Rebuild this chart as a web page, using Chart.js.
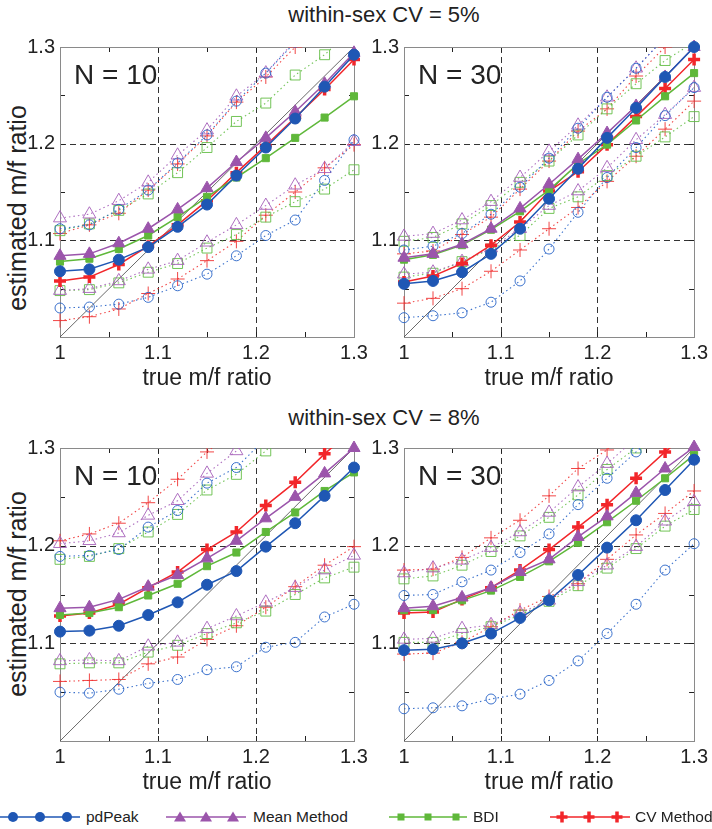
<!DOCTYPE html>
<html>
<head>
<meta charset="utf-8">
<script src="https://cdn.jsdelivr.net/npm/chart.js@4.4.0/dist/chart.umd.min.js"></script>
<style>
  body { margin: 0; background: #fff; font-family: "Liberation Sans", Arial, sans-serif; color: #222; }
  #page { position: relative; width: 712px; height: 829px; overflow: hidden; }
  canvas { position: absolute; }
  .title { position: absolute; font-size: 22px; line-height: 26px; white-space: nowrap; transform: translateX(-50%); }
  .ytitle { position: absolute; font-size: 25px; line-height: 28px; white-space: nowrap;
            transform: translate(-50%, -50%) rotate(-90deg); }
  .leg { position: absolute; top: 808px; font-size: 15.5px; line-height: 18px; white-space: nowrap; }
  .legicon { position: absolute; top: 809px; }
</style>
</head>
<body>
<div id="page">
  <div class="title" style="left:384px; top:2px;">within-sex CV = 5%</div>
  <div class="title" style="left:384px; top:405px;">within-sex CV = 8%</div>
  <div class="ytitle" style="left:17px; top:208px;">estimated m/f ratio</div>
  <div class="ytitle" style="left:17px; top:594px;">estimated m/f ratio</div>

  <canvas id="cA" width="380" height="362" style="left:0; top:30px;"></canvas>
  <canvas id="cB" width="356" height="362" style="left:356px; top:30px;"></canvas>
  <canvas id="cC" width="380" height="365" style="left:0; top:431px;"></canvas>
  <canvas id="cD" width="356" height="365" style="left:356px; top:431px;"></canvas>

  <svg class="legicon" style="left:0" width="80" height="16">
    <line x1="0" y1="8" x2="80" y2="8" stroke="#1f57b4" stroke-width="1.5"/>
    <circle cx="13" cy="8" r="5" fill="#1f57b4"/><circle cx="40" cy="8" r="5" fill="#1f57b4"/><circle cx="67" cy="8" r="5" fill="#1f57b4"/>
  </svg>
  <div class="leg" style="left:86px">pdPeak</div>
  <svg class="legicon" style="left:166px" width="80" height="16">
    <line x1="0" y1="8" x2="80" y2="8" stroke="#9b55ab" stroke-width="1.5"/>
    <polygon points="14,2.5 20,12.5 8,12.5" fill="#9b55ab"/><polygon points="40,2.5 46,12.5 34,12.5" fill="#9b55ab"/><polygon points="67,2.5 73,12.5 61,12.5" fill="#9b55ab"/>
  </svg>
  <div class="leg" style="left:253px">Mean Method</div>
  <svg class="legicon" style="left:389px" width="80" height="16">
    <line x1="0" y1="8" x2="78" y2="8" stroke="#5fb83a" stroke-width="1.5"/>
    <rect x="8.5" y="4.5" width="7" height="7" fill="#5fb83a"/><rect x="35.5" y="4.5" width="7" height="7" fill="#5fb83a"/><rect x="63.5" y="4.5" width="7" height="7" fill="#5fb83a"/>
  </svg>
  <div class="leg" style="left:473px">BDI</div>
  <svg class="legicon" style="left:550px" width="80" height="16">
    <line x1="0" y1="8" x2="80" y2="8" stroke="#f2262a" stroke-width="1.5"/>
    <path d="M12 2.5V13.5M6.5 8H17.5M39 2.5V13.5M33.5 8H44.5M67 2.5V13.5M61.5 8H72.5" stroke="#f2262a" stroke-width="3.5"/>
  </svg>
  <div class="leg" style="left:635px">CV Method</div>
</div>

<script>
// x values: true m/f ratio
const trueRatio = [1.00, 1.03, 1.06, 1.09, 1.12, 1.15, 1.18, 1.21, 1.24, 1.27, 1.30];

// axis ticks
const xTickLabels = [1, 1.1, 1.2, 1.3];
const yTickLabels = [1.1, 1.2, 1.3];
const minorTicks = [1.05, 1.1, 1.15, 1.2, 1.25];
const gridLines = [1.1, 1.2];

// CV = 5%, N = 10   (Hi / Lo = dotted upper and lower lines)
const a_pdPeak   = [1.068, 1.070, 1.080, 1.093, 1.114, 1.137, 1.167, 1.196, 1.226, 1.259, 1.292];
const a_pdPeakHi = [1.112, 1.116, 1.132, 1.152, 1.180, 1.209, 1.244, 1.273, 1.305, 1.335, 1.365];
const a_pdPeakLo = [1.030, 1.031, 1.034, 1.041, 1.053, 1.065, 1.084, 1.105, 1.121, 1.162, 1.204];
const a_mean     = [1.084, 1.086, 1.097, 1.112, 1.132, 1.154, 1.181, 1.206, 1.233, 1.262, 1.294];
const a_meanHi   = [1.123, 1.127, 1.141, 1.160, 1.188, 1.214, 1.249, 1.273, 1.307, 1.340, 1.370];
const a_meanLo   = [1.048, 1.050, 1.058, 1.070, 1.079, 1.098, 1.116, 1.136, 1.157, 1.174, 1.202];
const a_bdi      = [1.078, 1.081, 1.091, 1.105, 1.124, 1.145, 1.165, 1.185, 1.206, 1.227, 1.249];
const a_bdiHi    = [1.110, 1.117, 1.131, 1.148, 1.170, 1.196, 1.223, 1.242, 1.271, 1.292, 1.320];
const a_bdiLo    = [1.048, 1.049, 1.056, 1.067, 1.076, 1.092, 1.106, 1.124, 1.140, 1.153, 1.173];
const a_cv       = [1.058, 1.062, 1.075, 1.094, 1.116, 1.141, 1.170, 1.198, 1.227, 1.256, 1.287];
const a_cvHi     = [1.107, 1.116, 1.128, 1.152, 1.179, 1.208, 1.243, 1.269, 1.300, 1.330, 1.360];
const a_cvLo     = [1.017, 1.021, 1.029, 1.045, 1.060, 1.079, 1.099, 1.126, 1.150, 1.175, 1.199];

// CV = 5%, N = 30
const b_pdPeak   = [1.055, 1.058, 1.067, 1.086, 1.112, 1.143, 1.174, 1.206, 1.237, 1.269, 1.300];
const b_pdPeakHi = [1.090, 1.094, 1.107, 1.127, 1.155, 1.185, 1.216, 1.248, 1.278, 1.310, 1.340];
const b_pdPeakLo = [1.020, 1.022, 1.025, 1.036, 1.058, 1.091, 1.129, 1.165, 1.196, 1.229, 1.258];
const b_mean     = [1.082, 1.086, 1.096, 1.112, 1.133, 1.158, 1.184, 1.211, 1.239, 1.269, 1.300];
const b_meanHi   = [1.104, 1.107, 1.121, 1.140, 1.165, 1.192, 1.219, 1.248, 1.278, 1.310, 1.340];
const b_meanLo   = [1.065, 1.067, 1.078, 1.092, 1.112, 1.136, 1.151, 1.175, 1.204, 1.230, 1.258];
const b_bdi      = [1.080, 1.085, 1.095, 1.111, 1.130, 1.152, 1.179, 1.199, 1.224, 1.249, 1.273];
const b_bdiHi    = [1.099, 1.103, 1.117, 1.136, 1.160, 1.182, 1.209, 1.236, 1.262, 1.286, 1.305];
const b_bdiLo    = [1.062, 1.066, 1.078, 1.091, 1.105, 1.133, 1.145, 1.167, 1.187, 1.207, 1.228];
const b_cv       = [1.057, 1.063, 1.076, 1.095, 1.119, 1.151, 1.171, 1.199, 1.228, 1.257, 1.287];
const b_cvHi     = [1.086, 1.089, 1.106, 1.124, 1.153, 1.182, 1.213, 1.236, 1.270, 1.300, 1.330];
const b_cvLo     = [1.035, 1.040, 1.050, 1.068, 1.090, 1.112, 1.134, 1.161, 1.187, 1.215, 1.244];

// CV = 8%, N = 10
const c_pdPeak   = [1.112, 1.113, 1.118, 1.129, 1.142, 1.160, 1.174, 1.199, 1.223, 1.251, 1.280];
const c_pdPeakHi = [1.189, 1.190, 1.196, 1.219, 1.236, 1.264, 1.280, 1.310, 1.340, 1.370, 1.400];
const c_pdPeakLo = [1.050, 1.049, 1.053, 1.059, 1.063, 1.073, 1.076, 1.096, 1.101, 1.127, 1.140];
const c_mean     = [1.136, 1.137, 1.145, 1.158, 1.170, 1.187, 1.205, 1.228, 1.250, 1.274, 1.300];
const c_meanHi   = [1.202, 1.205, 1.213, 1.231, 1.246, 1.274, 1.297, 1.330, 1.360, 1.390, 1.420];
const c_meanLo   = [1.082, 1.083, 1.082, 1.097, 1.101, 1.115, 1.128, 1.142, 1.157, 1.175, 1.190];
const c_bdi      = [1.129, 1.131, 1.137, 1.149, 1.161, 1.179, 1.193, 1.214, 1.234, 1.256, 1.275];
const c_bdiHi    = [1.186, 1.189, 1.197, 1.214, 1.232, 1.257, 1.273, 1.297, 1.330, 1.360, 1.390];
const c_bdiLo    = [1.079, 1.080, 1.080, 1.091, 1.098, 1.110, 1.121, 1.133, 1.150, 1.167, 1.178];
const c_cv       = [1.128, 1.131, 1.140, 1.157, 1.173, 1.196, 1.214, 1.241, 1.265, 1.294, 1.320];
const c_cvHi     = [1.205, 1.212, 1.223, 1.244, 1.268, 1.296, 1.320, 1.350, 1.380, 1.410, 1.440];
const c_cvLo     = [1.061, 1.062, 1.063, 1.079, 1.086, 1.104, 1.118, 1.137, 1.158, 1.180, 1.199];

// CV = 8%, N = 30
const d_pdPeak   = [1.093, 1.094, 1.100, 1.110, 1.126, 1.144, 1.170, 1.198, 1.226, 1.257, 1.288];
const d_pdPeakHi = [1.149, 1.150, 1.163, 1.175, 1.193, 1.212, 1.242, 1.269, 1.296, 1.320, 1.350];
const d_pdPeakLo = [1.033, 1.034, 1.036, 1.043, 1.048, 1.062, 1.082, 1.110, 1.140, 1.175, 1.202];
const d_mean     = [1.136, 1.138, 1.147, 1.157, 1.173, 1.186, 1.209, 1.230, 1.254, 1.279, 1.301];
const d_meanHi   = [1.172, 1.177, 1.185, 1.198, 1.214, 1.234, 1.260, 1.284, 1.310, 1.340, 1.370];
const d_meanLo   = [1.104, 1.105, 1.115, 1.119, 1.131, 1.144, 1.163, 1.180, 1.199, 1.225, 1.245];
const d_bdi      = [1.134, 1.134, 1.144, 1.154, 1.168, 1.184, 1.203, 1.224, 1.246, 1.269, 1.293];
const d_bdiHi    = [1.166, 1.169, 1.180, 1.194, 1.210, 1.229, 1.252, 1.278, 1.300, 1.330, 1.360];
const d_bdiLo    = [1.101, 1.101, 1.110, 1.117, 1.129, 1.143, 1.159, 1.177, 1.197, 1.220, 1.237];
const d_cv       = [1.131, 1.132, 1.145, 1.157, 1.175, 1.196, 1.219, 1.242, 1.269, 1.296, 1.320];
const d_cvHi     = [1.175, 1.176, 1.188, 1.208, 1.226, 1.251, 1.279, 1.298, 1.330, 1.360, 1.390];
const d_cvLo     = [1.089, 1.090, 1.101, 1.117, 1.134, 1.148, 1.161, 1.186, 1.211, 1.233, 1.256];

// method styles (solid filled marker, dotted open marker)
const methods = [
  { key: 'pdPeak', color: '#1f57b4', light: 'rgba(40,100,200,0.9)', style: 'circle',   r: 5.5, ro: 5,   bw: 1 },
  { key: 'mean',   color: '#9b55ab', light: 'rgba(165,95,185,0.9)', style: 'triangle', r: 7,   ro: 7.5, bw: 1 },
  { key: 'bdi',    color: '#5fb83a', light: 'rgba(100,190,70,0.9)', style: 'rect',     r: 5,   ro: 7,   bw: 1 },
  { key: 'cv',     color: '#f2262a', light: 'rgba(240,50,50,0.9)',  style: 'cross',    r: 6,   ro: 7,   bw: 3.5 }
];

const panels = [
  { id: 'cA', label: 'N = 10', yTitleW: 60, padRight: 26, data: {
      pdPeak: [a_pdPeak, a_pdPeakHi, a_pdPeakLo], mean: [a_mean, a_meanHi, a_meanLo],
      bdi: [a_bdi, a_bdiHi, a_bdiLo], cv: [a_cv, a_cvHi, a_cvLo] } },
  { id: 'cB', label: 'N = 30', yTitleW: 48, padRight: 13, data: {
      pdPeak: [b_pdPeak, b_pdPeakHi, b_pdPeakLo], mean: [b_mean, b_meanHi, b_meanLo],
      bdi: [b_bdi, b_bdiHi, b_bdiLo], cv: [b_cv, b_cvHi, b_cvLo] } },
  { id: 'cC', label: 'N = 10', yTitleW: 60, padRight: 26, data: {
      pdPeak: [c_pdPeak, c_pdPeakHi, c_pdPeakLo], mean: [c_mean, c_meanHi, c_meanLo],
      bdi: [c_bdi, c_bdiHi, c_bdiLo], cv: [c_cv, c_cvHi, c_cvLo] } },
  { id: 'cD', label: 'N = 30', yTitleW: 48, padRight: 13, data: {
      pdPeak: [d_pdPeak, d_pdPeakHi, d_pdPeakLo], mean: [d_mean, d_meanHi, d_meanLo],
      bdi: [d_bdi, d_bdiHi, d_bdiLo], cv: [d_cv, d_cvHi, d_cvLo] } }
];

const axisFont = '"Liberation Sans", Arial, sans-serif';

function pts(ys) {
  return ys.map((y, i) => ({ x: trueRatio[i], y: y }));
}

// frame, inward ticks, dashed grid and the "N = .." label
const framePlugin = {
  id: 'frame',
  beforeDatasetsDraw(chart, args, opts) {
    const { ctx, chartArea: a, scales: { x, y } } = chart;
    ctx.save();
    ctx.strokeStyle = '#333';
    ctx.lineWidth = 1;
    ctx.setLineDash([6, 4]);
    gridLines.forEach(v => {
      const px = Math.round(x.getPixelForValue(v)) + 0.5;
      const py = Math.round(y.getPixelForValue(v)) + 0.5;
      ctx.beginPath(); ctx.moveTo(px, a.top); ctx.lineTo(px, a.bottom); ctx.stroke();
      ctx.beginPath(); ctx.moveTo(a.left, py); ctx.lineTo(a.right, py); ctx.stroke();
    });
    ctx.setLineDash([]);
    ctx.strokeStyle = '#222';
    minorTicks.forEach(v => {
      const px = Math.round(x.getPixelForValue(v)) + 0.5;
      const py = Math.round(y.getPixelForValue(v)) + 0.5;
      ctx.beginPath();
      ctx.moveTo(px, a.bottom); ctx.lineTo(px, a.bottom - 5);
      ctx.moveTo(px, a.top); ctx.lineTo(px, a.top + 5);
      ctx.moveTo(a.left, py); ctx.lineTo(a.left + 5, py);
      ctx.moveTo(a.right, py); ctx.lineTo(a.right - 5, py);
      ctx.stroke();
    });
    ctx.strokeStyle = '#8a8a8a';
    ctx.strokeRect(Math.round(a.left) + 0.5, Math.round(a.top) + 0.5,
                   Math.round(a.right - a.left), Math.round(a.bottom - a.top));
    ctx.fillStyle = '#222';
    ctx.font = '28px ' + axisFont;
    ctx.textBaseline = 'middle';
    ctx.fillText(opts.label, a.left + 14, a.top + 29);
    ctx.restore();
  }
};

panels.forEach(p => {
  const datasets = [];
  methods.forEach(m => {
    const [mid, hi, lo] = p.data[m.key];
    datasets.push({
      data: pts(mid), order: 1,
      borderColor: m.color, backgroundColor: m.color, borderWidth: 1.5,
      pointStyle: m.style, pointRadius: m.r, pointBorderWidth: m.bw,
      pointBackgroundColor: m.color, pointBorderColor: m.color,
      clip: { left: 10, right: 10, bottom: 10, top: Math.max(...mid) > 1.301 ? 0 : 10 }
    });
    [hi, lo].forEach(s => {
      datasets.push({
        data: pts(s), order: 2,
        borderColor: m.light, borderWidth: 1.1, borderDash: [1.5, 3],
        pointStyle: m.style, pointRadius: m.ro, pointBorderWidth: 1,
        pointBackgroundColor: 'rgba(0,0,0,0)', pointBorderColor: m.light,
        clip: { left: 10, right: 10, bottom: 10, top: Math.max(...s) > 1.301 ? 0 : 10 }
      });
    });
  });
  // y = x reference line
  datasets.push({
    data: [{ x: 1, y: 1 }, { x: 1.3, y: 1.3 }], order: 3,
    borderColor: '#444', borderWidth: 0.8, pointRadius: 0
  });

  new Chart(document.getElementById(p.id), {
    type: 'line',
    data: { datasets: datasets },
    options: {
      responsive: false,
      animation: false,
      events: [],
      layout: { padding: { top: 14, right: p.padRight, left: 0, bottom: 0 } },
      plugins: { legend: { display: false }, tooltip: { enabled: false }, frame: { label: p.label } },
      scales: {
        x: {
          type: 'linear', min: 1, max: 1.3,
          afterBuildTicks: s => { s.ticks = xTickLabels.map(v => ({ value: v })); },
          afterFit: s => { s.height = 55; },
          grid: { display: false, drawTicks: false },
          border: { display: false },
          ticks: {
            padding: 4, maxRotation: 0, autoSkip: false, color: '#222',
            font: { family: axisFont, size: 20 },
            callback: v => (v === 1 ? '1' : v.toFixed(1))
          },
          title: { display: true, text: 'true m/f ratio', color: '#222', padding: 0,
                   font: { family: axisFont, size: 23 } }
        },
        y: {
          type: 'linear', min: 1, max: 1.3,
          afterBuildTicks: s => { s.ticks = yTickLabels.map(v => ({ value: v })); },
          afterFit: s => { s.width = p.yTitleW; },
          grid: { display: false, drawTicks: false },
          border: { display: false },
          ticks: {
            padding: 5, color: '#222',
            font: { family: axisFont, size: 20 },
            callback: v => v.toFixed(1)
          }
        }
      }
    },
    plugins: [framePlugin]
  });
});
</script>
</body>
</html>
